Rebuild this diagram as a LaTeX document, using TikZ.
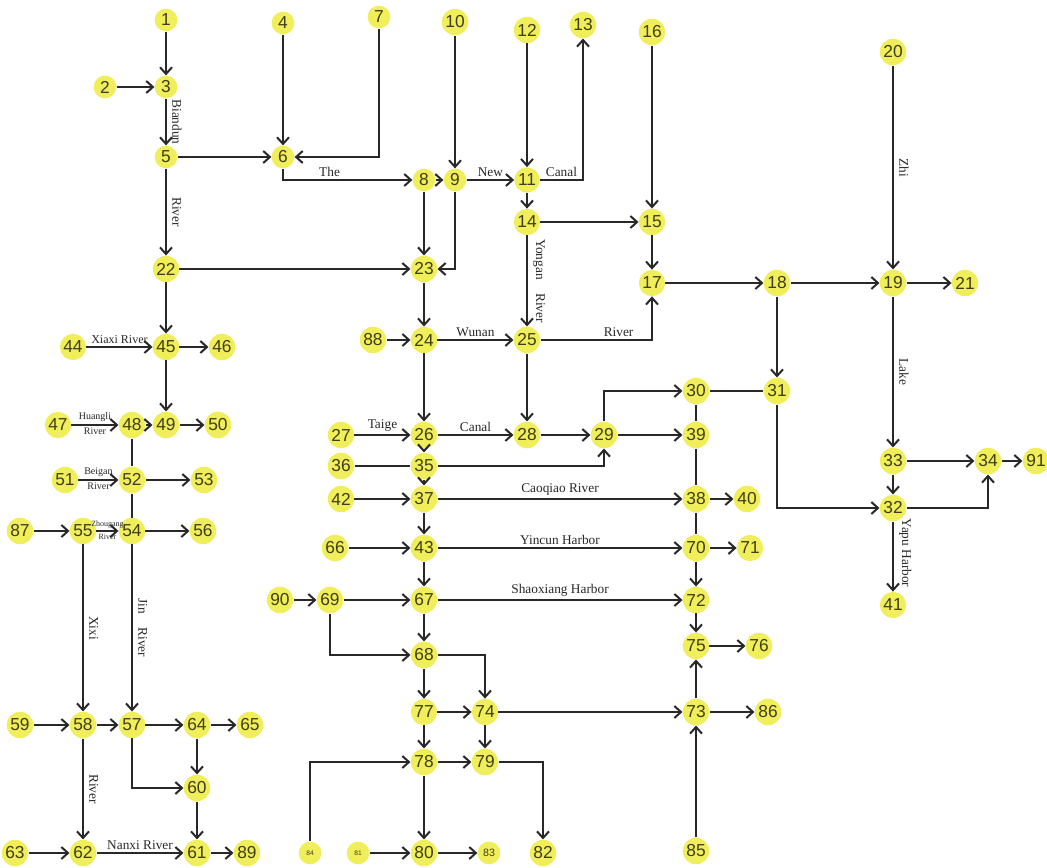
\documentclass[tikz,border=0pt]{standalone}
\usepackage{fontspec}
\setmainfont{Liberation Serif}
\newfontfamily\numfont{Liberation Sans}
\usetikzlibrary{arrows.meta}
\definecolor{nodeyellow}{RGB}{240,238,90}
\definecolor{numink}{RGB}{64,62,24}
\definecolor{lineink}{RGB}{40,40,40}

\begin{document}
\begin{tikzpicture}[x=0.75pt, y=-0.75pt, >={Straight Barb[length=5pt,width=9pt]},
    stn/.style={circle, fill=nodeyellow, text=numink, inner sep=1pt, minimum size=17pt,
        font=\numfont\fontsize{13}{13}\selectfont},
    tinystn/.style={stn, font=\numfont\fontsize{5}{5}\selectfont},
    flow/.style={->, line width=1.5pt, draw=lineink},
    link/.style={line width=1.5pt, draw=lineink},
    lbl/.style={font=\fontsize{10}{10}\selectfont, text=lineink, inner sep=2pt},
    smalllbl/.style={font=\fontsize{7.5}{7.5}\selectfont, text=lineink, inner sep=1.5pt},
    vlbl/.style={lbl, midway, rotate=-90, anchor=south, inner ysep=4pt}]
    \path[use as bounding box, fill=white] (0,0) rectangle (1047,868);

    % stations
    \foreach \id/\px/\py in {1/166/20, 2/105/87, 3/166/87, 4/283/23, 5/166/157, 6/283/157,
        7/379/17, 8/424/180, 9/455/180, 10/455/22, 11/527/180, 12/527/30, 13/583/25,
        14/527/222, 15/652/222, 16/652/32, 17/652/283, 18/777/283, 19/893/283, 20/893/52,
        21/965/283, 22/166/269, 23/424/269, 24/424/340, 25/527/340, 26/424/435, 27/341/435,
        28/527/435, 29/604/435, 30/696/391, 31/777/391, 32/893/508, 33/893/461, 34/988/461,
        35/424/466, 36/341/466, 37/424/499, 38/696/499, 39/696/435, 40/747/499, 41/893/605,
        42/341/499, 43/424/548, 44/73/347, 45/166/347, 46/222/347, 47/58/425, 48/132/425,
        49/166/425, 50/218/425, 51/65/480, 52/132/480, 53/204/480, 54/132/531, 55/83/531,
        56/203/531, 57/132/725, 58/83/725, 59/20/725, 60/197/788, 61/197/853, 62/83/853,
        63/15/853, 64/197/725, 65/250/725, 66/335/548, 67/424/600, 68/424/655, 69/330/600,
        70/696/548, 71/750/548, 72/696/600, 73/696/712, 74/485/712, 75/696/646, 76/759/646,
        77/424/712, 78/424/762, 79/485/762, 80/424/853, 82/543/853, 85/696/851, 86/768/712,
        87/20/531, 88/373/340, 89/247/853, 90/280/600, 91/1036/461}
        \node[stn] (n\id) at (\px,\py) {\id};
    \node[tinystn] (n81) at (358,853) {81};
    \node[tinystn] (n84) at (310,853) {84};
    \node[stn, font=\numfont\fontsize{8}{8}\selectfont] (n83) at (489,853) {83};

    % straight flows
    \foreach \a/\b in {1/3, 2/3, 5/6, 4/6, 8/9, 10/9, 12/11, 11/14, 14/15, 16/15, 15/17,
        22/23, 8/23, 23/24, 88/24, 17/18, 18/19, 19/21, 18/31, 24/26, 25/28, 28/29, 29/39,
        26/35, 35/37, 42/37, 38/40, 37/43, 66/43, 70/71, 70/72, 43/67, 69/67, 72/75, 75/76,
        73/75, 74/73, 73/86, 85/73, 67/68, 68/77, 77/74, 77/78, 74/79, 78/79, 78/80, 81/80,
        80/83, 90/69, 33/32, 33/34, 34/91, 22/45, 45/46, 45/49, 48/49, 49/50, 52/53, 87/55,
        54/56, 59/58, 58/57, 57/64, 64/65, 64/60, 60/61, 63/62, 61/89}
        \draw[flow] (n\a) -- (n\b);

    % links without heads
    \foreach \a/\b in {48/52, 52/54, 30/31, 30/39, 39/38, 38/70, 36/35}
        \draw[link] (n\a) -- (n\b);

    % bent flows
    \draw[flow] (n7) |- (n6);
    \draw[flow] (n6) |- node[lbl, pos=0.68, above] (lbThe) {The} (n8);
    \draw[flow] (n11) -| node[lbl, pos=0.25, above] (lbCanalA) {Canal} (n13);
    \draw[flow] (n9) |- (n23);
    \draw[flow] (n25) -| node[lbl, pos=0.35, above] (lbRiverB) {River} (n17);
    \draw[flow] (n29) |- (n30);
    \draw[flow] (n31) |- (n32);
    \draw[flow] (n32) -| (n34);
    \draw[flow] (n35) -| (n29);
    \draw[flow] (n69) |- (n68);
    \draw[flow] (n68) -| (n74);
    \draw[flow] (n79) -| (n82);
    \draw[flow] (n84) |- (n78);
    \draw[flow] (n57) |- (n60);

    % named reaches
    \draw[flow] (n3) -- node[vlbl] (lbBiandun) {Biandun} (n5);
    \draw[flow] (n5) -- node[vlbl] (lbRiverA) {River} (n22);
    \draw[flow] (n9) -- node[lbl, above] (lbNew) {New} (n11);
    \draw[flow] (n14) -- node[vlbl] (lbYongan) {Yongan\quad River} (n25);
    \draw[flow] (n24) -- node[lbl, above] (lbWunan) {Wunan} (n25);
    \draw[flow] (n20) -- node[vlbl] (lbZhi) {Zhi} (n19);
    \draw[flow] (n19) -- node[vlbl] (lbLake) {Lake} (n33);
    \draw[flow] (n32) -- node[vlbl, pos=0.45] (lbYapu) {Yapu Harbor} (n41);
    \draw[flow] (n27) -- node[lbl, above] (lbTaige) {Taige} (n26);
    \draw[flow] (n26) -- node[lbl, above] (lbCanalB) {Canal} (n28);
    \draw[flow] (n37) -- node[lbl, above] (lbCaoqiao) {Caoqiao River} (n38);
    \draw[flow] (n43) -- node[lbl, above] (lbYincun) {Yincun Harbor} (n70);
    \draw[flow] (n67) -- node[lbl, above] (lbShaoxiang) {Shaoxiang Harbor} (n72);
    \draw[flow] (n44) -- node[lbl, above, font=\fontsize{9}{9}\selectfont] (lbXiaxi) {Xiaxi River} (n45);
    \draw[flow] (n47) -- node[smalllbl, above] (lbHuangli) {Huangli}
        node[smalllbl, below] (lbHuangliR) {River} (n48);
    \draw[flow] (n51) -- node[smalllbl, above] (lbBeigan) {Beigan}
        node[smalllbl, below] (lbBeiganR) {River} (n52);
    \draw[flow] (n55) -- node[smalllbl, above, font=\fontsize{6}{6}\selectfont] (lbZhougang) {Zhougang}
        node[smalllbl, below, font=\fontsize{6}{6}\selectfont] (lbZhougangR) {River} (n54);
    \draw[flow] (n54) -- node[vlbl] (lbJin) {Jin\quad River} (n57);
    \draw[flow] (n55) -- node[vlbl] (lbXixi) {Xixi} (n58);
    \draw[flow] (n58) -- node[vlbl] (lbRiverC) {River} (n62);
    \draw[flow] (n62) -- node[lbl, above] (lbNanxi) {Nanxi River} (n61);
\end{tikzpicture}
\end{document}
